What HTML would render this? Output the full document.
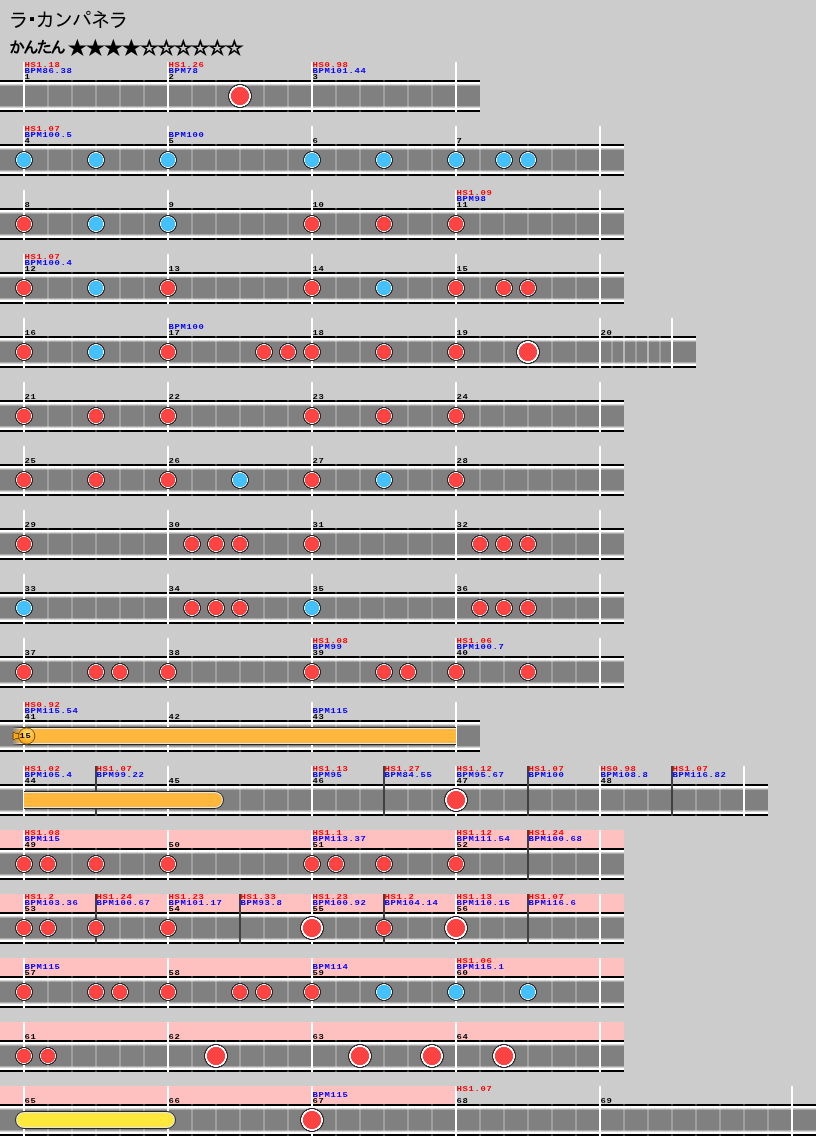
<!DOCTYPE html>
<html lang="ja"><head><meta charset="utf-8"><title>ラ･カンパネラ</title>
<style>
html,body{margin:0;padding:0}
body{width:816px;height:1136px;background:#ccc;position:relative;overflow:hidden;font-family:"Liberation Mono","IPAGothic","Noto Sans CJK JP",monospace}
div,span,i,b,u{position:absolute;display:block;box-sizing:border-box}
.ttl{left:8.7px;top:8px;font:20px/24px "Liberation Sans","IPAGothic","Noto Sans CJK JP",sans-serif;letter-spacing:-1.7px;color:#000;white-space:nowrap}
.ttl .d{position:static;display:inline-block;transform:translate(-.3px,-.3px) scale(1.5);transform-origin:50% 50%}
.lv{left:9px;top:38px;font:bold 16px/20px "Liberation Sans","IPAGothic","Noto Sans CJK JP",sans-serif;letter-spacing:-2.3px;color:#000;white-space:nowrap}
.st{top:39px;font:bold 17px/20px "Liberation Sans","IPAGothic","Noto Sans CJK JP",sans-serif;color:#000;white-space:nowrap;transform-origin:0 0;transform:scaleX(1.1)}
.s1{left:68.3px;letter-spacing:-0.64px}
.s2{left:140.3px;letter-spacing:-1.55px}
.row{left:0;height:50px}
.pk{left:0;top:0;height:18px;background:#ffc0c0}
.bd{left:0;top:18px;height:32px;background:linear-gradient(#000 0 2px,#fff 2px 4px,#d5d5d5 4px 5px,#aaa 5px 6px,#808080 6px 26px,#aaa 26px 27px,#d5d5d5 27px 28px,#fff 28px 30px,#000 30px 32px)}
.bt{top:18px;height:32px}
.bl{top:0;width:2px;height:50px;background:#fff}
.dk{top:0;width:2px;height:50px;background:#404040}
.t{font:bold 8px/6px "Liberation Mono",monospace;letter-spacing:.6px;white-space:pre;height:6px;transform-origin:0 0;transform:translateX(.6px) scaleX(1.111)}
.hs{top:0;color:#f00}
.bp{top:6px;color:#00f}
.no{top:12px;color:#000}
.n{top:25px;width:18px;height:18px}
.N{top:22px;width:24px;height:24px}
.n.r{background:radial-gradient(circle closest-side,#ff4242 0 6.9px,#fff 7.4px 7.6px,#282828 8px 8.7px,transparent 9.2px)}
.n.b{background:radial-gradient(circle closest-side,#42c0ff 0 6.9px,#fff 7.4px 7.6px,#282828 8px 8.7px,transparent 9.2px)}
.N.r{background:radial-gradient(circle closest-side,#ff4242 0 8.8px,#fff 9.3px 10.6px,#282828 11px 11.7px,transparent 12.2px)}
.N.b{background:radial-gradient(circle closest-side,#42c0ff 0 8.8px,#fff 9.3px 10.6px,#282828 11px 11.7px,transparent 12.2px)}
.bh{top:24px;left:11px;width:26px;height:20px}
.bn{top:31px;left:19px;color:#000}
.rl{top:25px;height:18px;border:1px solid #282828}
.rl::after{content:"";position:absolute;left:1px;top:1px;right:1px;bottom:1px;border-radius:inherit}
.y::after{background:#ffe83c}
.o::after{background:#ffb83c}
.y,.o{background:#e6e6e6}
.c0::after{left:0}
.c1::after{left:0;right:0}
</style></head><body>
<div class="ttl">ラ<span class="d">･</span>カンパネラ</div>
<div class="lv">かんたん</div><div class="st s1">★★★★</div><div class="st s2">☆☆☆☆☆☆</div>

<div class="row" style="top:62px;width:480px">
<div class="bd" style="width:480px"></div>
<div class="bt" style="left:23px;width:432px;background:repeating-linear-gradient(90deg,rgba(255,255,255,.25) 0 2px,transparent 2px 24px)"></div>
<i class="bl" style="left:23px"></i>
<i class="bl" style="left:167px"></i>
<i class="bl" style="left:311px"></i>
<i class="bl" style="left:455px"></i>
<span class="t hs" style="left:24px">HS1.18</span>
<span class="t bp" style="left:24px">BPM86.38</span>
<span class="t hs" style="left:168px">HS1.26</span>
<span class="t bp" style="left:168px">BPM78</span>
<span class="t hs" style="left:312px">HS0.98</span>
<span class="t bp" style="left:312px">BPM101.44</span>
<span class="t no" style="left:24px">1</span>
<span class="t no" style="left:168px">2</span>
<span class="t no" style="left:312px">3</span>
<b class="N r" style="left:228px"></b>
</div>
<div class="row" style="top:126px;width:624px">
<div class="bd" style="width:624px"></div>
<div class="bt" style="left:23px;width:576px;background:repeating-linear-gradient(90deg,rgba(255,255,255,.25) 0 2px,transparent 2px 24px)"></div>
<i class="bl" style="left:23px"></i>
<i class="bl" style="left:167px"></i>
<i class="bl" style="left:311px"></i>
<i class="bl" style="left:455px"></i>
<i class="bl" style="left:599px"></i>
<span class="t hs" style="left:24px">HS1.07</span>
<span class="t bp" style="left:24px">BPM100.5</span>
<span class="t bp" style="left:168px">BPM100</span>
<span class="t no" style="left:24px">4</span>
<span class="t no" style="left:168px">5</span>
<span class="t no" style="left:312px">6</span>
<span class="t no" style="left:456px">7</span>
<b class="n b" style="left:15px"></b>
<b class="n b" style="left:87px"></b>
<b class="n b" style="left:159px"></b>
<b class="n b" style="left:303px"></b>
<b class="n b" style="left:375px"></b>
<b class="n b" style="left:447px"></b>
<b class="n b" style="left:495px"></b>
<b class="n b" style="left:519px"></b>
</div>
<div class="row" style="top:190px;width:624px">
<div class="bd" style="width:624px"></div>
<div class="bt" style="left:23px;width:576px;background:repeating-linear-gradient(90deg,rgba(255,255,255,.25) 0 2px,transparent 2px 24px)"></div>
<i class="bl" style="left:23px"></i>
<i class="bl" style="left:167px"></i>
<i class="bl" style="left:311px"></i>
<i class="bl" style="left:455px"></i>
<i class="bl" style="left:599px"></i>
<span class="t hs" style="left:456px">HS1.09</span>
<span class="t bp" style="left:456px">BPM98</span>
<span class="t no" style="left:24px">8</span>
<span class="t no" style="left:168px">9</span>
<span class="t no" style="left:312px">10</span>
<span class="t no" style="left:456px">11</span>
<b class="n r" style="left:15px"></b>
<b class="n b" style="left:87px"></b>
<b class="n b" style="left:159px"></b>
<b class="n r" style="left:303px"></b>
<b class="n r" style="left:375px"></b>
<b class="n r" style="left:447px"></b>
</div>
<div class="row" style="top:254px;width:624px">
<div class="bd" style="width:624px"></div>
<div class="bt" style="left:23px;width:576px;background:repeating-linear-gradient(90deg,rgba(255,255,255,.25) 0 2px,transparent 2px 24px)"></div>
<i class="bl" style="left:23px"></i>
<i class="bl" style="left:167px"></i>
<i class="bl" style="left:311px"></i>
<i class="bl" style="left:455px"></i>
<i class="bl" style="left:599px"></i>
<span class="t hs" style="left:24px">HS1.07</span>
<span class="t bp" style="left:24px">BPM100.4</span>
<span class="t no" style="left:24px">12</span>
<span class="t no" style="left:168px">13</span>
<span class="t no" style="left:312px">14</span>
<span class="t no" style="left:456px">15</span>
<b class="n r" style="left:15px"></b>
<b class="n b" style="left:87px"></b>
<b class="n r" style="left:159px"></b>
<b class="n r" style="left:303px"></b>
<b class="n b" style="left:375px"></b>
<b class="n r" style="left:447px"></b>
<b class="n r" style="left:495px"></b>
<b class="n r" style="left:519px"></b>
</div>
<div class="row" style="top:318px;width:696px">
<div class="bd" style="width:696px"></div>
<div class="bt" style="left:23px;width:648px;background:repeating-linear-gradient(90deg,rgba(255,255,255,.25) 0 2px,transparent 2px 24px)"></div>
<div class="bt" style="left:599px;width:72px;background:repeating-linear-gradient(90deg,rgba(255,255,255,.25) 0 2px,transparent 2px 12px)"></div>
<i class="bl" style="left:23px"></i>
<i class="bl" style="left:167px"></i>
<i class="bl" style="left:311px"></i>
<i class="bl" style="left:455px"></i>
<i class="bl" style="left:599px"></i>
<i class="bl" style="left:671px"></i>
<span class="t bp" style="left:168px">BPM100</span>
<span class="t no" style="left:24px">16</span>
<span class="t no" style="left:168px">17</span>
<span class="t no" style="left:312px">18</span>
<span class="t no" style="left:456px">19</span>
<span class="t no" style="left:600px">20</span>
<b class="n r" style="left:15px"></b>
<b class="n b" style="left:87px"></b>
<b class="n r" style="left:159px"></b>
<b class="n r" style="left:255px"></b>
<b class="n r" style="left:279px"></b>
<b class="n r" style="left:303px"></b>
<b class="n r" style="left:375px"></b>
<b class="n r" style="left:447px"></b>
<b class="N r" style="left:516px"></b>
</div>
<div class="row" style="top:382px;width:624px">
<div class="bd" style="width:624px"></div>
<div class="bt" style="left:23px;width:576px;background:repeating-linear-gradient(90deg,rgba(255,255,255,.25) 0 2px,transparent 2px 24px)"></div>
<i class="bl" style="left:23px"></i>
<i class="bl" style="left:167px"></i>
<i class="bl" style="left:311px"></i>
<i class="bl" style="left:455px"></i>
<i class="bl" style="left:599px"></i>
<span class="t no" style="left:24px">21</span>
<span class="t no" style="left:168px">22</span>
<span class="t no" style="left:312px">23</span>
<span class="t no" style="left:456px">24</span>
<b class="n r" style="left:15px"></b>
<b class="n r" style="left:87px"></b>
<b class="n r" style="left:159px"></b>
<b class="n r" style="left:303px"></b>
<b class="n r" style="left:375px"></b>
<b class="n r" style="left:447px"></b>
</div>
<div class="row" style="top:446px;width:624px">
<div class="bd" style="width:624px"></div>
<div class="bt" style="left:23px;width:576px;background:repeating-linear-gradient(90deg,rgba(255,255,255,.25) 0 2px,transparent 2px 24px)"></div>
<i class="bl" style="left:23px"></i>
<i class="bl" style="left:167px"></i>
<i class="bl" style="left:311px"></i>
<i class="bl" style="left:455px"></i>
<i class="bl" style="left:599px"></i>
<span class="t no" style="left:24px">25</span>
<span class="t no" style="left:168px">26</span>
<span class="t no" style="left:312px">27</span>
<span class="t no" style="left:456px">28</span>
<b class="n r" style="left:15px"></b>
<b class="n r" style="left:87px"></b>
<b class="n r" style="left:159px"></b>
<b class="n b" style="left:231px"></b>
<b class="n r" style="left:303px"></b>
<b class="n b" style="left:375px"></b>
<b class="n r" style="left:447px"></b>
</div>
<div class="row" style="top:510px;width:624px">
<div class="bd" style="width:624px"></div>
<div class="bt" style="left:23px;width:576px;background:repeating-linear-gradient(90deg,rgba(255,255,255,.25) 0 2px,transparent 2px 24px)"></div>
<i class="bl" style="left:23px"></i>
<i class="bl" style="left:167px"></i>
<i class="bl" style="left:311px"></i>
<i class="bl" style="left:455px"></i>
<i class="bl" style="left:599px"></i>
<span class="t no" style="left:24px">29</span>
<span class="t no" style="left:168px">30</span>
<span class="t no" style="left:312px">31</span>
<span class="t no" style="left:456px">32</span>
<b class="n r" style="left:15px"></b>
<b class="n r" style="left:183px"></b>
<b class="n r" style="left:207px"></b>
<b class="n r" style="left:231px"></b>
<b class="n r" style="left:303px"></b>
<b class="n r" style="left:471px"></b>
<b class="n r" style="left:495px"></b>
<b class="n r" style="left:519px"></b>
</div>
<div class="row" style="top:574px;width:624px">
<div class="bd" style="width:624px"></div>
<div class="bt" style="left:23px;width:576px;background:repeating-linear-gradient(90deg,rgba(255,255,255,.25) 0 2px,transparent 2px 24px)"></div>
<i class="bl" style="left:23px"></i>
<i class="bl" style="left:167px"></i>
<i class="bl" style="left:311px"></i>
<i class="bl" style="left:455px"></i>
<i class="bl" style="left:599px"></i>
<span class="t no" style="left:24px">33</span>
<span class="t no" style="left:168px">34</span>
<span class="t no" style="left:312px">35</span>
<span class="t no" style="left:456px">36</span>
<b class="n b" style="left:15px"></b>
<b class="n r" style="left:183px"></b>
<b class="n r" style="left:207px"></b>
<b class="n r" style="left:231px"></b>
<b class="n b" style="left:303px"></b>
<b class="n r" style="left:471px"></b>
<b class="n r" style="left:495px"></b>
<b class="n r" style="left:519px"></b>
</div>
<div class="row" style="top:638px;width:624px">
<div class="bd" style="width:624px"></div>
<div class="bt" style="left:23px;width:576px;background:repeating-linear-gradient(90deg,rgba(255,255,255,.25) 0 2px,transparent 2px 24px)"></div>
<i class="bl" style="left:23px"></i>
<i class="bl" style="left:167px"></i>
<i class="bl" style="left:311px"></i>
<i class="bl" style="left:455px"></i>
<i class="bl" style="left:599px"></i>
<span class="t hs" style="left:312px">HS1.08</span>
<span class="t bp" style="left:312px">BPM99</span>
<span class="t hs" style="left:456px">HS1.06</span>
<span class="t bp" style="left:456px">BPM100.7</span>
<span class="t no" style="left:24px">37</span>
<span class="t no" style="left:168px">38</span>
<span class="t no" style="left:312px">39</span>
<span class="t no" style="left:456px">40</span>
<b class="n r" style="left:15px"></b>
<b class="n r" style="left:87px"></b>
<b class="n r" style="left:111px"></b>
<b class="n r" style="left:159px"></b>
<b class="n r" style="left:303px"></b>
<b class="n r" style="left:375px"></b>
<b class="n r" style="left:399px"></b>
<b class="n r" style="left:447px"></b>
<b class="n r" style="left:519px"></b>
</div>
<div class="row" style="top:702px;width:480px">
<div class="bd" style="width:480px"></div>
<div class="bt" style="left:23px;width:432px;background:repeating-linear-gradient(90deg,rgba(255,255,255,.25) 0 2px,transparent 2px 24px)"></div>
<i class="bl" style="left:23px"></i>
<i class="bl" style="left:167px"></i>
<i class="bl" style="left:311px"></i>
<i class="bl" style="left:455px"></i>
<span class="t hs" style="left:24px">HS0.92</span>
<span class="t bp" style="left:24px">BPM115.54</span>
<span class="t bp" style="left:312px">BPM115</span>
<span class="t no" style="left:24px">41</span>
<span class="t no" style="left:168px">42</span>
<span class="t no" style="left:312px">43</span>
<div class="rl o c1" style="left:12px;width:444px;border-left:0;border-right:0;-webkit-mask-image:linear-gradient(90deg,transparent 0,#000 9px);mask-image:linear-gradient(90deg,transparent 0,#000 9px)"></div>
<svg class="bh" style="position:absolute" viewBox="0 0 26 20"><defs><radialGradient id="bg" cx="0.55" cy="0.35" r="0.7"><stop offset="0" stop-color="#ffe07a"/><stop offset="0.5" stop-color="#ffbe3a"/><stop offset="1" stop-color="#f89c08"/></radialGradient></defs><path d="M2 6.5h1.6l1 1H9v5H4.6l-1 1H2z" fill="#ffa614" stroke="#5a3a00" stroke-width="0.8"/><circle cx="15.7" cy="10" r="8.2" fill="url(#bg)" stroke="#6a4608" stroke-width="0.9"/></svg>
<span class="t bn">15</span>
</div>
<div class="row" style="top:766px;width:768px">
<div class="bd" style="width:768px"></div>
<div class="bt" style="left:23px;width:720px;background:repeating-linear-gradient(90deg,rgba(255,255,255,.25) 0 2px,transparent 2px 24px)"></div>
<i class="dk" style="left:95px"></i>
<i class="dk" style="left:383px"></i>
<i class="dk" style="left:527px"></i>
<i class="dk" style="left:671px"></i>
<i class="bl" style="left:23px"></i>
<i class="bl" style="left:167px"></i>
<i class="bl" style="left:311px"></i>
<i class="bl" style="left:455px"></i>
<i class="bl" style="left:599px"></i>
<i class="bl" style="left:743px"></i>
<span class="t hs" style="left:24px">HS1.02</span>
<span class="t bp" style="left:24px">BPM105.4</span>
<span class="t hs" style="left:96px">HS1.07</span>
<span class="t bp" style="left:96px">BPM99.22</span>
<span class="t hs" style="left:312px">HS1.13</span>
<span class="t bp" style="left:312px">BPM95</span>
<span class="t hs" style="left:384px">HS1.27</span>
<span class="t bp" style="left:384px">BPM84.55</span>
<span class="t hs" style="left:456px">HS1.12</span>
<span class="t bp" style="left:456px">BPM95.67</span>
<span class="t hs" style="left:528px">HS1.07</span>
<span class="t bp" style="left:528px">BPM100</span>
<span class="t hs" style="left:600px">HS0.98</span>
<span class="t bp" style="left:600px">BPM108.8</span>
<span class="t hs" style="left:672px">HS1.07</span>
<span class="t bp" style="left:672px">BPM116.82</span>
<span class="t no" style="left:24px">44</span>
<span class="t no" style="left:168px">45</span>
<span class="t no" style="left:312px">46</span>
<span class="t no" style="left:456px">47</span>
<span class="t no" style="left:600px">48</span>
<div class="rl o c0" style="left:24px;width:200px;border-radius:0 9px 9px 0;border-left:0"></div>
<b class="N r" style="left:444px"></b>
</div>
<div class="row" style="top:830px;width:624px">
<div class="pk" style="width:624px"></div>
<div class="bd" style="width:624px"></div>
<div class="bt" style="left:23px;width:576px;background:repeating-linear-gradient(90deg,rgba(255,255,255,.25) 0 2px,transparent 2px 24px)"></div>
<i class="dk" style="left:527px"></i>
<i class="bl" style="left:23px"></i>
<i class="bl" style="left:167px"></i>
<i class="bl" style="left:311px"></i>
<i class="bl" style="left:455px"></i>
<i class="bl" style="left:599px"></i>
<span class="t hs" style="left:24px">HS1.08</span>
<span class="t bp" style="left:24px">BPM115</span>
<span class="t hs" style="left:312px">HS1.1</span>
<span class="t bp" style="left:312px">BPM113.37</span>
<span class="t hs" style="left:456px">HS1.12</span>
<span class="t bp" style="left:456px">BPM111.54</span>
<span class="t hs" style="left:528px">HS1.24</span>
<span class="t bp" style="left:528px">BPM100.68</span>
<span class="t no" style="left:24px">49</span>
<span class="t no" style="left:168px">50</span>
<span class="t no" style="left:312px">51</span>
<span class="t no" style="left:456px">52</span>
<b class="n r" style="left:15px"></b>
<b class="n r" style="left:39px"></b>
<b class="n r" style="left:87px"></b>
<b class="n r" style="left:159px"></b>
<b class="n r" style="left:303px"></b>
<b class="n r" style="left:327px"></b>
<b class="n r" style="left:375px"></b>
<b class="n r" style="left:447px"></b>
</div>
<div class="row" style="top:894px;width:624px">
<div class="pk" style="width:624px"></div>
<div class="bd" style="width:624px"></div>
<div class="bt" style="left:23px;width:576px;background:repeating-linear-gradient(90deg,rgba(255,255,255,.25) 0 2px,transparent 2px 24px)"></div>
<i class="dk" style="left:95px"></i>
<i class="dk" style="left:239px"></i>
<i class="dk" style="left:383px"></i>
<i class="dk" style="left:527px"></i>
<i class="bl" style="left:23px"></i>
<i class="bl" style="left:167px"></i>
<i class="bl" style="left:311px"></i>
<i class="bl" style="left:455px"></i>
<i class="bl" style="left:599px"></i>
<span class="t hs" style="left:24px">HS1.2</span>
<span class="t bp" style="left:24px">BPM103.36</span>
<span class="t hs" style="left:96px">HS1.24</span>
<span class="t bp" style="left:96px">BPM100.67</span>
<span class="t hs" style="left:168px">HS1.23</span>
<span class="t bp" style="left:168px">BPM101.17</span>
<span class="t hs" style="left:240px">HS1.33</span>
<span class="t bp" style="left:240px">BPM93.8</span>
<span class="t hs" style="left:312px">HS1.23</span>
<span class="t bp" style="left:312px">BPM100.92</span>
<span class="t hs" style="left:384px">HS1.2</span>
<span class="t bp" style="left:384px">BPM104.14</span>
<span class="t hs" style="left:456px">HS1.13</span>
<span class="t bp" style="left:456px">BPM110.15</span>
<span class="t hs" style="left:528px">HS1.07</span>
<span class="t bp" style="left:528px">BPM116.6</span>
<span class="t no" style="left:24px">53</span>
<span class="t no" style="left:168px">54</span>
<span class="t no" style="left:312px">55</span>
<span class="t no" style="left:456px">56</span>
<b class="n r" style="left:15px"></b>
<b class="n r" style="left:39px"></b>
<b class="n r" style="left:87px"></b>
<b class="n r" style="left:159px"></b>
<b class="N r" style="left:300px"></b>
<b class="n r" style="left:375px"></b>
<b class="N r" style="left:444px"></b>
</div>
<div class="row" style="top:958px;width:624px">
<div class="pk" style="width:624px"></div>
<div class="bd" style="width:624px"></div>
<div class="bt" style="left:23px;width:576px;background:repeating-linear-gradient(90deg,rgba(255,255,255,.25) 0 2px,transparent 2px 24px)"></div>
<i class="bl" style="left:23px"></i>
<i class="bl" style="left:167px"></i>
<i class="bl" style="left:311px"></i>
<i class="bl" style="left:455px"></i>
<i class="bl" style="left:599px"></i>
<span class="t bp" style="left:24px">BPM115</span>
<span class="t bp" style="left:312px">BPM114</span>
<span class="t hs" style="left:456px">HS1.06</span>
<span class="t bp" style="left:456px">BPM115.1</span>
<span class="t no" style="left:24px">57</span>
<span class="t no" style="left:168px">58</span>
<span class="t no" style="left:312px">59</span>
<span class="t no" style="left:456px">60</span>
<b class="n r" style="left:15px"></b>
<b class="n r" style="left:87px"></b>
<b class="n r" style="left:111px"></b>
<b class="n r" style="left:159px"></b>
<b class="n r" style="left:231px"></b>
<b class="n r" style="left:255px"></b>
<b class="n r" style="left:303px"></b>
<b class="n b" style="left:375px"></b>
<b class="n b" style="left:447px"></b>
<b class="n b" style="left:519px"></b>
</div>
<div class="row" style="top:1022px;width:624px">
<div class="pk" style="width:624px"></div>
<div class="bd" style="width:624px"></div>
<div class="bt" style="left:23px;width:576px;background:repeating-linear-gradient(90deg,rgba(255,255,255,.25) 0 2px,transparent 2px 24px)"></div>
<i class="bl" style="left:23px"></i>
<i class="bl" style="left:167px"></i>
<i class="bl" style="left:311px"></i>
<i class="bl" style="left:455px"></i>
<i class="bl" style="left:599px"></i>
<span class="t no" style="left:24px">61</span>
<span class="t no" style="left:168px">62</span>
<span class="t no" style="left:312px">63</span>
<span class="t no" style="left:456px">64</span>
<b class="n r" style="left:15px"></b>
<b class="n r" style="left:39px"></b>
<b class="N r" style="left:204px"></b>
<b class="N r" style="left:348px"></b>
<b class="N r" style="left:420px"></b>
<b class="N r" style="left:492px"></b>
</div>
<div class="row" style="top:1086px;width:816px">
<div class="pk" style="width:456px"></div>
<div class="bd" style="width:816px"></div>
<div class="bt" style="left:23px;width:768px;background:repeating-linear-gradient(90deg,rgba(255,255,255,.25) 0 2px,transparent 2px 24px)"></div>
<i class="bl" style="left:23px"></i>
<i class="bl" style="left:167px"></i>
<i class="bl" style="left:311px"></i>
<i class="bl" style="left:455px"></i>
<i class="bl" style="left:599px"></i>
<i class="bl" style="left:791px"></i>
<span class="t bp" style="left:312px">BPM115</span>
<span class="t hs" style="left:456px">HS1.07</span>
<span class="t no" style="left:24px">65</span>
<span class="t no" style="left:168px">66</span>
<span class="t no" style="left:312px">67</span>
<span class="t no" style="left:456px">68</span>
<span class="t no" style="left:600px">69</span>
<div class="rl y" style="left:15px;width:161px;border-radius:9px"></div>
<b class="N r" style="left:300px"></b>
</div>
</body></html>
